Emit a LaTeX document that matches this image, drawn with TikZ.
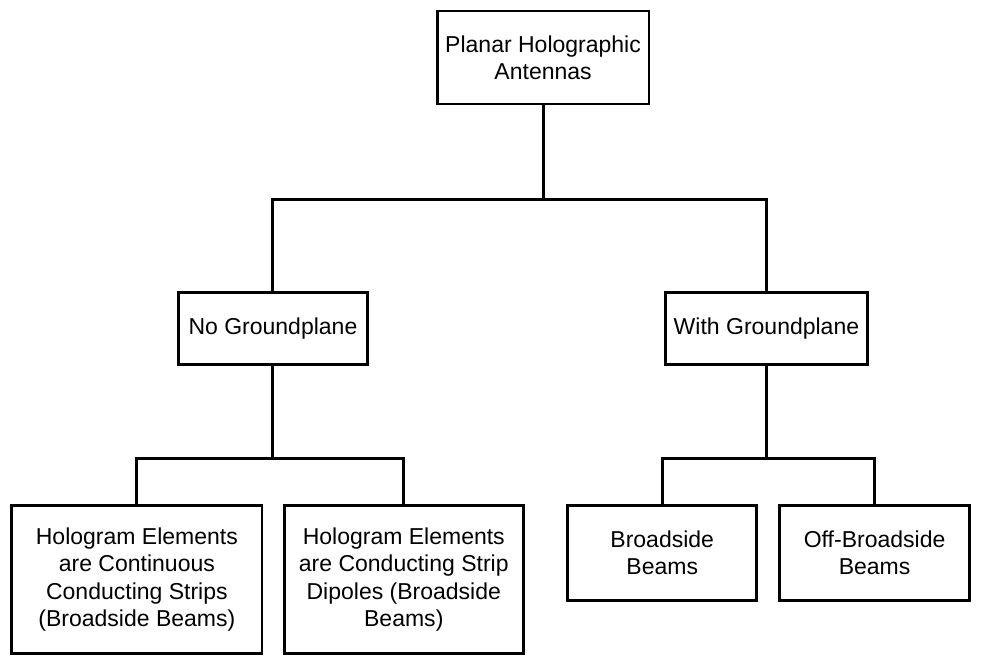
\documentclass[tikz,border=0pt]{standalone}
\usepackage{fontspec}
\setmainfont{Liberation Sans}
\begin{document}
\begin{tikzpicture}[x=0.75pt,y=-0.75pt,
  box/.style={draw=black, line width=2.3pt, rectangle, inner sep=0pt, align=center,
    font=\fontsize{18}{21.4}\selectfont},
  conn/.style={draw=black, line width=2.3pt}]
\fill[white] (0,0) rectangle (1040,700);
\useasboundingbox (0,0) rectangle (1040,700);
\node[box, minimum width=165.75pt, minimum height=72.75pt] (top) at (566.5,60) {Planar Holographic\\Antennas};
\node[box, minimum width=147.75pt, minimum height=56.25pt] (ng) at (284.7,343) {No Groundplane};
\node[box, minimum width=158.25pt, minimum height=56.25pt] (wg) at (799.5,343) {With Groundplane};
\node[box, minimum width=195.75pt, minimum height=116.25pt] (b1) at (142.8,604.5) {Hologram Elements\\are Continuous\\Conducting Strips\\(Broadside Beams)};
\node[box, minimum width=186.75pt, minimum height=116.25pt] (b2) at (421.2,604.5) {Hologram Elements\\are Conducting Strip\\Dipoles (Broadside\\Beams)};
\node[box, minimum width=147.75pt, minimum height=74.25pt] (b3) at (690.8,576.5) {Broadside\\Beams};
\node[box, minimum width=148.5pt, minimum height=74.25pt] (b4) at (912.3,576.5) {Off-Broadside\\Beams};
\coordinate (j1) at (566.5,208);
\coordinate (j2) at (284.7,478);
\coordinate (j3) at (799.5,478);
\draw[conn] (top.south) -- (j1);
\draw[conn] (ng.north) |- (j1) -| (wg.north);
\draw[conn] (ng.south) -- (j2);
\draw[conn] (b1.north) |- (j2) -| (b2.north);
\draw[conn] (wg.south) -- (j3);
\draw[conn] (b3.north) |- (j3) -| (b4.north);
\end{tikzpicture}
\end{document}
